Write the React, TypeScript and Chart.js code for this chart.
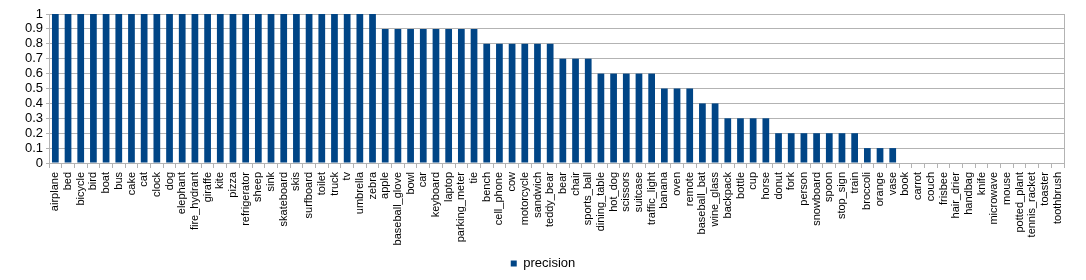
import React, { useEffect, useRef } from "react";
import { Chart, registerables } from "chart.js";

Chart.register(...registerables);

const categories: string[] = [
  "airplane", "bed", "bicycle", "bird", "boat", "bus", "cake", "cat", "clock", "dog",
  "elephant", "fire_hydrant", "giraffe", "kite", "pizza", "refrigerator", "sheep", "sink",
  "skateboard", "skis", "surfboard", "toilet", "truck", "tv", "umbrella", "zebra",
  "apple", "baseball_glove", "bowl", "car", "keyboard", "laptop", "parking_meter", "tie",
  "bench", "cell_phone", "cow", "motorcycle", "sandwich", "teddy_bear",
  "bear", "chair", "sports_ball",
  "dining_table", "hot_dog", "scissors", "suitcase", "traffic_light",
  "banana", "oven", "remote",
  "baseball_bat", "wine_glass",
  "backpack", "bottle", "cup", "horse",
  "donut", "fork", "person", "snowboard", "spoon", "stop_sign", "train",
  "broccoli", "orange", "vase",
  "book", "carrot", "couch", "frisbee", "hair_drier", "handbag", "knife", "microwave",
  "mouse", "potted_plant", "tennis_racket", "toaster", "toothbrush",
];

const precision: number[] = [
  1, 1, 1, 1, 1, 1, 1, 1, 1, 1,
  1, 1, 1, 1, 1, 1, 1, 1,
  1, 1, 1, 1, 1, 1, 1, 1,
  0.9, 0.9, 0.9, 0.9, 0.9, 0.9, 0.9, 0.9,
  0.8, 0.8, 0.8, 0.8, 0.8, 0.8,
  0.7, 0.7, 0.7,
  0.6, 0.6, 0.6, 0.6, 0.6,
  0.5, 0.5, 0.5,
  0.4, 0.4,
  0.3, 0.3, 0.3, 0.3,
  0.2, 0.2, 0.2, 0.2, 0.2, 0.2, 0.2,
  0.1, 0.1, 0.1,
  0, 0, 0, 0, 0, 0, 0, 0,
  0, 0, 0, 0, 0,
];

const seriesName = "precision";
const yMin = 0;
const yMax = 1;
const yStep = 0.1;

const GRID = "#b3b3b3";
const BAR = "#004586";
const FONT = "'Liberation Sans', Arial, sans-serif";

const rightBorder = {
  id: "rightBorder",
  afterDatasetsDraw(chart: any) {
    const { ctx, chartArea } = chart;
    ctx.save();
    ctx.strokeStyle = GRID;
    ctx.lineWidth = 1;
    ctx.beginPath();
    const x = Math.round(chartArea.right) + 0.5;
    ctx.moveTo(x, chartArea.top);
    ctx.lineTo(x, chartArea.bottom);
    ctx.stroke();
    ctx.restore();
  },
};

export default function App() {
  const ref = useRef<HTMLCanvasElement | null>(null);

  useEffect(() => {
    document.body.style.margin = "0";
    if (!ref.current) return;
    const chart = new Chart(ref.current, {
      type: "bar",
      data: {
        labels: categories,
        datasets: [
          {
            label: seriesName,
            data: precision,
            backgroundColor: BAR,
            borderWidth: 0,
            barPercentage: 0.53,
            categoryPercentage: 1,
          },
        ],
      },
      options: {
        animation: false,
        responsive: false,
        maintainAspectRatio: false,
        layout: { padding: { left: 0, right: 0, top: 14, bottom: 0 } },
        plugins: {
          legend: {
            display: true,
            position: "bottom",
            labels: {
              font: { family: FONT, size: 13 },
              color: "#000",
              boxWidth: 6,
              boxHeight: 6,
              padding: 10,
            },
          },
          tooltip: { enabled: false },
        },
        scales: {
          x: {
            grid: {
              display: true,
              drawOnChartArea: false,
              drawTicks: true,
              tickLength: 5,
              color: GRID,
              offset: true,
            },
            border: { display: true, color: GRID },
            ticks: {
              autoSkip: false,
              minRotation: 90,
              maxRotation: 90,
              padding: 4,
              color: "#000",
              font: { family: FONT, size: 11 },
            },
            afterFit(scale: any) {
              scale.height = 84;
            },
          },
          y: {
            min: yMin,
            max: yMax,
            grid: { color: GRID, tickLength: 3 },
            border: { display: true, color: GRID },
            ticks: {
              autoSkip: false,
              stepSize: yStep,
              padding: 3,
              color: "#000",
              font: { family: FONT, size: 13 },
              callback: (v: any) => String(+Number(v).toFixed(1)),
            },
            afterFit(scale: any) {
              scale.width = 49;
            },
          },
          yRight: {
            position: "right",
            display: true,
            min: yMin,
            max: yMax,
            grid: { display: false, drawOnChartArea: false, drawTicks: false },
            border: { display: false },
            ticks: { display: false },
            afterFit(scale: any) {
              scale.width = 22;
            },
          },
        },
      },
      plugins: [rightBorder],
    });
    return () => chart.destroy();
  }, []);

  return (
    <div style={{ position: "absolute", left: 0, top: 0, width: 1086, height: 280 }}>
      <canvas ref={ref} width={1086} height={280} style={{ width: 1086, height: 280 }} />
    </div>
  );
}
